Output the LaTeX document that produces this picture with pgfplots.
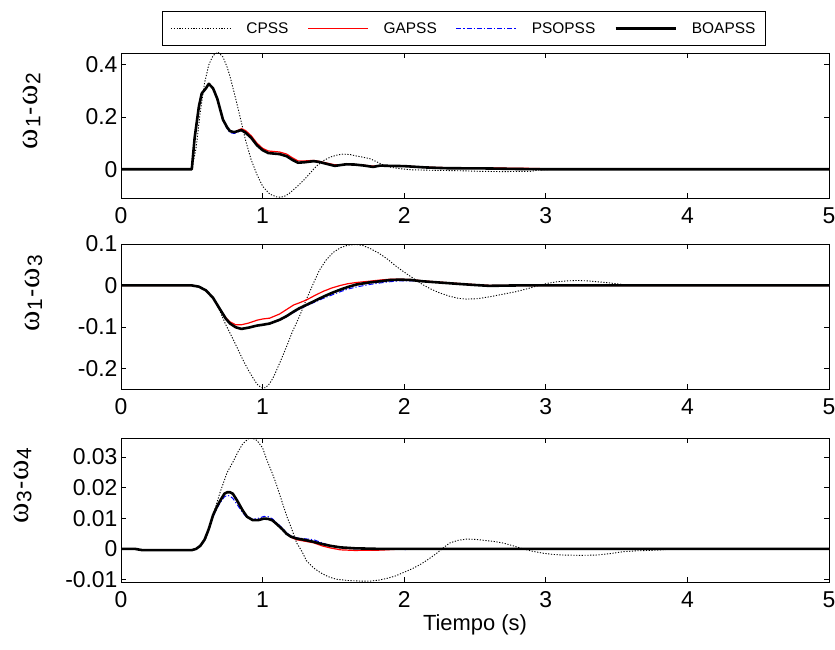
\documentclass[border=0pt]{standalone}
\usepackage{fontspec}
\setmainfont{Liberation Sans}
\newfontfamily\lserif{Liberation Serif}
\usepackage{pgfplots}
\pgfplotsset{compat=1.18}
\newcommand\wsub[1]{{\lserif\fontsize{31}{31}\selectfont ω}\kern1bp\raisebox{-0.3em}{\fontsize{21}{21}\selectfont #1}}
\newcommand\hy{{\fontsize{25}{25}\selectfont\kern1bp-\kern1bp}}

\pgfplotstableread{
t v
0 0
0.5 0
0.53 0.08
0.56 0.22
0.59 0.33
0.62 0.40
0.65 0.435
0.685 0.448
0.72 0.43
0.75 0.39
0.77 0.355
0.81 0.27
0.85 0.18
0.88 0.11
0.92 0.035
0.96 -0.02
1.0 -0.065
1.05 -0.095
1.10 -0.106
1.13 -0.107
1.16 -0.102
1.19 -0.092
1.24 -0.068
1.29 -0.042
1.34 -0.012
1.38 0.012
1.43 0.033
1.48 0.047
1.53 0.055
1.57 0.058
1.62 0.056
1.66 0.051
1.71 0.046
1.76 0.040
1.80 0.030
1.85 0.017
1.90 0.008
1.97 0.002
2.05 -0.002
2.2 -0.004
2.42 -0.006
2.53 -0.008
2.7 -0.009
2.89 -0.008
2.95 -0.003
3.05 0
5 0
}\aCP
\pgfplotstableread{
t v
0 0
0.5 0
0.52 0.12
0.55 0.24
0.57 0.29
0.60 0.31
0.62 0.327
0.65 0.31
0.68 0.27
0.72 0.19
0.75 0.16
0.77 0.146
0.80 0.142
0.85 0.155
0.88 0.148
0.92 0.128
0.96 0.100
1.00 0.080
1.04 0.070
1.12 0.066
1.17 0.058
1.21 0.044
1.25 0.032
1.30 0.032
1.36 0.034
1.40 0.030
1.45 0.024
1.51 0.017
1.55 0.017
1.59 0.019
1.65 0.018
1.72 0.015
1.78 0.012
1.83 0.013
1.9 0.013
2.0 0.012
2.15 0.008
2.3 0.006
2.6 0.005
2.8 0.004
2.95 0.003
3.0 0
5 0
}\aGA
\pgfplotstableread{
t v
0 0
0.5 0
0.52 0.12
0.55 0.24
0.57 0.29
0.60 0.31
0.62 0.327
0.65 0.31
0.68 0.27
0.72 0.19
0.75 0.155
0.77 0.140
0.80 0.137
0.85 0.148
0.88 0.140
0.92 0.120
0.96 0.092
1.00 0.073
1.04 0.062
1.12 0.058
1.17 0.050
1.21 0.036
1.25 0.025
1.30 0.027
1.36 0.031
1.40 0.028
1.45 0.021
1.51 0.012
1.55 0.015
1.59 0.018
1.65 0.017
1.72 0.014
1.78 0.009
1.83 0.013
1.9 0.012
2.0 0.011
2.15 0.007
2.3 0.004
2.6 0.003
2.8 0.001
3.0 0
5 0
}\aPS
\pgfplotstableread{
t v
0 0
0.5 0
0.52 0.12
0.55 0.24
0.57 0.29
0.60 0.31
0.62 0.327
0.65 0.31
0.68 0.27
0.72 0.19
0.75 0.16
0.77 0.146
0.80 0.142
0.85 0.150
0.88 0.140
0.92 0.120
0.96 0.092
1.00 0.073
1.04 0.062
1.12 0.058
1.17 0.050
1.21 0.036
1.25 0.025
1.30 0.027
1.36 0.031
1.40 0.028
1.45 0.021
1.51 0.013
1.55 0.016
1.59 0.019
1.65 0.018
1.72 0.014
1.78 0.009
1.83 0.014
1.9 0.013
2.0 0.012
2.15 0.007
2.3 0.004
2.6 0.003
2.8 0.001
3.0 0
5 0
}\aBO

\pgfplotstableread{
t v
0 0
0.5 0
0.55 -0.004
0.6 -0.012
0.65 -0.03
0.70 -0.063
0.74 -0.095
0.77 -0.115
0.82 -0.15
0.86 -0.179
0.90 -0.205
0.93 -0.222
0.96 -0.238
0.99 -0.247
1.02 -0.247
1.05 -0.237
1.08 -0.219
1.12 -0.188
1.17 -0.147
1.21 -0.112
1.26 -0.075
1.31 -0.033
1.36 0.006
1.40 0.036
1.45 0.062
1.50 0.080
1.55 0.091
1.60 0.097
1.66 0.099
1.71 0.096
1.76 0.089
1.82 0.078
1.88 0.064
1.94 0.047
2.0 0.032
2.07 0.016
2.13 0.002
2.19 -0.009
2.25 -0.018
2.32 -0.026
2.38 -0.031
2.44 -0.033
2.52 -0.032
2.61 -0.027
2.70 -0.021
2.79 -0.015
2.87 -0.008
2.94 -0.001
3.01 0.005
3.08 0.009
3.15 0.011
3.22 0.012
3.30 0.011
3.36 0.009
3.45 0.006
3.55 0.002
3.66 0.0
5 0
}\bCP
\pgfplotstableread{
t v
0 0
0.5 0
0.55 -0.003
0.6 -0.012
0.65 -0.03
0.70 -0.058
0.74 -0.078
0.77 -0.088
0.81 -0.095
0.85 -0.095
0.90 -0.091
0.96 -0.084
1.0 -0.081
1.05 -0.079
1.12 -0.069
1.17 -0.058
1.22 -0.047
1.26 -0.042
1.31 -0.035
1.37 -0.024
1.43 -0.014
1.49 -0.006
1.55 0.0
1.60 0.004
1.66 0.007
1.75 0.010
1.83 0.013
1.9 0.015
1.97 0.015
2.05 0.014
2.13 0.011
2.25 0.008
2.37 0.005
2.5 0.002
2.6 0
5 0
}\bGA
\pgfplotstableread{
t v
0 0
0.5 0
0.55 -0.003
0.60 -0.012
0.65 -0.03
0.70 -0.058
0.74 -0.080
0.77 -0.093
0.81 -0.101
0.85 -0.104
0.90 -0.102
0.96 -0.097
1.0 -0.095
1.05 -0.092
1.12 -0.084
1.17 -0.075
1.22 -0.065
1.26 -0.057
1.31 -0.049
1.37 -0.040
1.43 -0.031
1.49 -0.023
1.55 -0.015
1.60 -0.009
1.66 -0.004
1.75 0.002
1.83 0.006
1.9 0.009
1.97 0.011
2.05 0.011
2.13 0.010
2.25 0.007
2.37 0.004
2.5 0.001
2.6 -0.001
2.8 0
5 0
}\bPS
\pgfplotstableread{
t v
0 0
0.5 0
0.55 -0.003
0.60 -0.012
0.65 -0.03
0.70 -0.058
0.74 -0.080
0.77 -0.092
0.81 -0.101
0.85 -0.105
0.90 -0.102
0.96 -0.097
1.0 -0.095
1.05 -0.092
1.12 -0.083
1.17 -0.074
1.22 -0.063
1.26 -0.055
1.31 -0.047
1.37 -0.037
1.43 -0.027
1.49 -0.018
1.55 -0.010
1.60 -0.004
1.66 0.002
1.75 0.007
1.83 0.010
1.9 0.013
1.97 0.014
2.05 0.013
2.13 0.010
2.25 0.007
2.37 0.004
2.5 0.001
2.6 -0.001
2.8 0
5 0
}\bBO

\pgfplotstableread{
t v
0 0
0.1 0
0.15 -0.0004
0.5 -0.0004
0.55 0.0005
0.6 0.0035
0.65 0.011
0.70 0.0185
0.75 0.025
0.79 0.0283
0.83 0.032
0.86 0.0343
0.90 0.036
0.93 0.0361
0.96 0.0354
1.0 0.033
1.03 0.029
1.07 0.0245
1.10 0.0207
1.14 0.015
1.17 0.0108
1.21 0.006
1.24 0.002
1.28 -0.001
1.31 -0.0039
1.36 -0.0062
1.41 -0.0078
1.46 -0.009
1.52 -0.0099
1.6 -0.0103
1.69 -0.0105
1.76 -0.0105
1.82 -0.0102
1.88 -0.0096
1.94 -0.0088
1.99 -0.0078
2.05 -0.0066
2.11 -0.0052
2.17 -0.0034
2.23 -0.0014
2.28 0.0005
2.32 0.0019
2.38 0.0028
2.44 0.0032
2.51 0.0031
2.58 0.0027
2.64 0.0024
2.70 0.0019
2.77 0.001
2.84 0.0
2.91 -0.0008
2.98 -0.0014
3.05 -0.0018
3.12 -0.002
3.25 -0.0021
3.36 -0.002
3.46 -0.0015
3.55 -0.0009
3.65 -0.0006
3.74 -0.0005
3.85 -0.0002
4.0 0
5 0
}\cCP
\pgfplotstableread{
t v
0 0
0.1 0
0.15 -0.0004
0.5 -0.0004
0.53 0.0
0.56 0.001
0.59 0.003
0.62 0.0065
0.65 0.011
0.68 0.014
0.70 0.0157
0.73 0.018
0.75 0.0185
0.77 0.0185
0.79 0.018
0.82 0.0158
0.86 0.0125
0.89 0.0105
0.93 0.0094
0.97 0.0094
1.01 0.0099
1.04 0.0098
1.07 0.0093
1.10 0.0081
1.14 0.0064
1.17 0.0049
1.20 0.0038
1.24 0.0030
1.30 0.0025
1.36 0.0020
1.42 0.0010
1.48 0.0003
1.55 -0.0003
1.65 -0.0005
1.83 -0.0004
2.0 0
5 0
}\cGA
\pgfplotstableread{
t v
0 0
0.1 0
0.15 -0.0004
0.5 -0.0004
0.53 0.0
0.56 0.001
0.59 0.003
0.62 0.0065
0.65 0.0105
0.68 0.0135
0.70 0.015
0.73 0.017
0.75 0.0175
0.77 0.0172
0.79 0.0165
0.82 0.0145
0.86 0.0118
0.89 0.0102
0.93 0.0096
0.97 0.0100
1.01 0.0106
1.04 0.0105
1.07 0.0098
1.10 0.0085
1.14 0.0068
1.17 0.0052
1.20 0.0042
1.24 0.0036
1.30 0.0033
1.36 0.0030
1.42 0.0020
1.48 0.0010
1.55 0.0004
1.65 0.0001
1.83 0
2.0 -0.0002
2.3 0
5 0
}\cPS
\pgfplotstableread{
t v
0 0
0.1 0
0.15 -0.0004
0.5 -0.0004
0.53 0.0
0.56 0.001
0.59 0.003
0.62 0.0065
0.65 0.011
0.68 0.014
0.70 0.0157
0.73 0.018
0.75 0.0185
0.77 0.0185
0.79 0.018
0.82 0.0158
0.86 0.0125
0.89 0.0105
0.93 0.0094
0.97 0.0094
1.01 0.0099
1.04 0.0098
1.07 0.0093
1.10 0.0081
1.14 0.0064
1.17 0.0049
1.20 0.0040
1.24 0.0034
1.30 0.0029
1.36 0.0023
1.42 0.0016
1.48 0.0010
1.55 0.0005
1.65 0.0002
1.83 0
5 0
}\cBO

\pgfplotsset{
  myax/.style={
    scale only axis, width=708bp, height=145bp,
    xmin=0, xmax=5, xtick={0,1,2,3,4,5}, xticklabels={0,1,2,3,4,5},
    scaled y ticks=false,
    tick align=inside, major tick length=5bp,
    axis line style={line width=0.9bp},
    every tick/.style={black, line width=0.7bp},
    tick label style={font=\fontsize{23}{23}\selectfont},
    x tick label style={yshift=-6bp},
    ylabel style={anchor=south},
  },
  cp/.style={draw=black, line width=0.9bp, dash pattern=on 1.2bp off 1.6bp},
  ga/.style={draw=red, line width=1.2bp},
  ps/.style={draw=blue, line width=1bp, dash pattern=on 5bp off 2bp on 1.2bp off 2bp},
  bo/.style={draw=black, line width=2.6bp, line join=round},
}

\begin{document}
\begin{tikzpicture}
\useasboundingbox (0,0) rectangle (835bp,650bp);
\begin{axis}[myax, at={(121bp,452bp)}, anchor=south west,
  ymin=-0.11, ymax=0.445, ytick={0,0.2,0.4},
  yticklabels={0,0.2,0.4},
  ylabel={\wsub{1}\hy\wsub{2}},
  ylabel style={at={(axis description cs:-0.1088,0.6)}},
  legend columns=4,
  legend image code/.code={\draw[#1] (0bp,0bp) -- (60bp,0bp); \path (73bp,0bp);},
  legend style={at={(axis description cs:0.0579,1.29)}, anchor=north west,
    draw=black, line width=1bp, font=\fontsize{15.5}{15.5}\selectfont,
    inner xsep=8bp, inner ysep=9bp,
    /tikz/every even column/.append style={column sep=17bp}},
]
\addplot[cp] table[x=t,y=v] {\aCP};
\addplot[ga] table[x=t,y=v] {\aGA};
\addplot[ps] table[x=t,y=v] {\aPS};
\addplot[bo] table[x=t,y=v] {\aBO};
\legend{CPSS,GAPSS,PSOPSS,BOAPSS}
\end{axis}
\begin{axis}[myax, at={(121bp,261bp)}, anchor=south west,
  ymin=-0.25, ymax=0.1, ytick={-0.2,-0.1,0,0.1},
  yticklabels={-0.2,-0.1,0,0.1},
  ylabel={\wsub{1}\hy\wsub{3}},
  ylabel style={at={(axis description cs:-0.106,0.66)}},
]
\addplot[cp] table[x=t,y=v] {\bCP};
\addplot[ga] table[x=t,y=v] {\bGA};
\addplot[ps] table[x=t,y=v] {\bPS};
\addplot[bo] table[x=t,y=v] {\bBO};
\end{axis}
\begin{axis}[myax, at={(121bp,68bp)}, anchor=south west, height=144bp,
  ymin=-0.0108, ymax=0.0362, ytick={-0.01,0,0.01,0.02,0.03},
  yticklabels={-0.01,0,0.01,0.02,0.03},
  ylabel={\wsub{3}\hy\wsub{4}},
  ylabel style={at={(axis description cs:-0.1215,0.67)}},
  xlabel={Tiempo (s)}, xlabel style={font=\fontsize{22}{22}\selectfont},
]
\addplot[cp] table[x=t,y=v] {\cCP};
\addplot[ga] table[x=t,y=v] {\cGA};
\addplot[ps] table[x=t,y=v] {\cPS};
\addplot[bo] table[x=t,y=v] {\cBO};
\end{axis}
\end{tikzpicture}
\end{document}
